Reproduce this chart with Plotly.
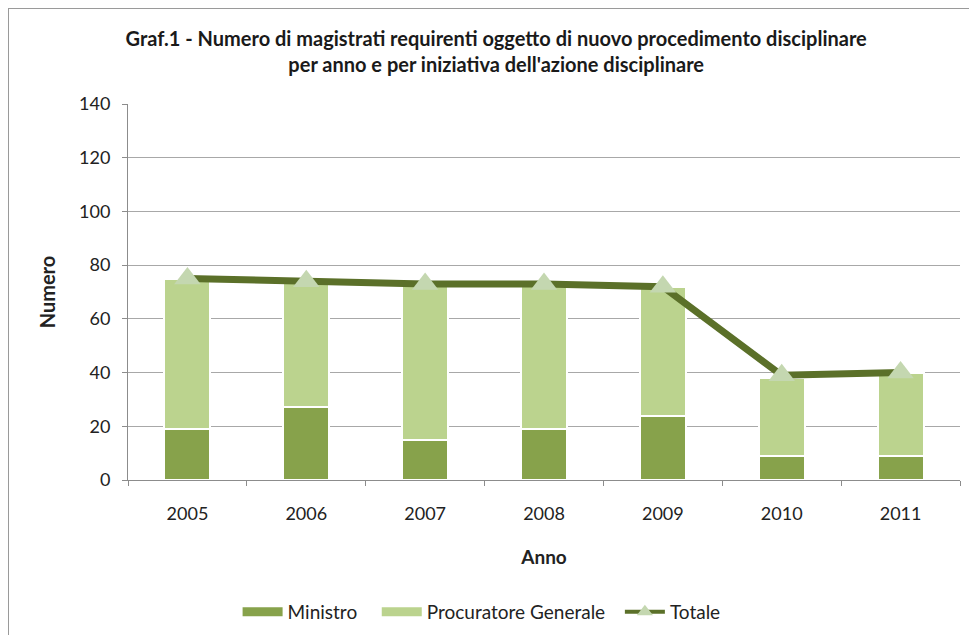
import plotly.graph_objects as go

anni = ["2005", "2006", "2007", "2008", "2009", "2010", "2011"]
ministro = [19, 27, 15, 19, 24, 9, 9]
procuratore = [56, 47, 58, 54, 48, 29, 31]
totale = [75, 74, 73, 73, 72, 39, 40]
y_ticks = [0, 20, 40, 60, 80, 100, 120, 140]

FONT = "Lato, 'Open Sans', sans-serif"
C_MIN = "#87a24b"
C_PG = "#bbd38e"
C_TOT = "#5b7029"
C_TRI = "#c4d7b0"
NB = "\u00a0"

fig = go.Figure()
fig.add_trace(go.Bar(x=anni, y=ministro, name="Ministro", showlegend=False, legendgroup="m",
                     marker=dict(color=C_MIN, line=dict(color="white", width=2))))
fig.add_trace(go.Bar(x=anni, y=procuratore, name="Procuratore Generale", showlegend=False,
                     legendgroup="p",
                     marker=dict(color=C_PG, line=dict(color="white", width=2))))
fig.add_trace(go.Scatter(x=anni, y=totale, name="Totale", mode="lines+markers",
                         showlegend=False, legendgroup="t",
                         line=dict(color=C_TOT, width=7),
                         marker=dict(symbol="triangle-up", size=23, color=C_TRI,
                                     line=dict(width=0))))
# legend entries (wide swatches like the original)
fig.add_trace(go.Scatter(x=[None], y=[None], name="Ministro" + NB * 3, mode="lines",
                         legendgroup="m", line=dict(color=C_MIN, width=9)))
fig.add_trace(go.Scatter(x=[None], y=[None], name="Procuratore Generale" + NB * 2, mode="lines",
                         legendgroup="p", line=dict(color=C_PG, width=9)))
fig.add_trace(go.Scatter(x=[None], y=[None], name="Totale", mode="lines+markers",
                         legendgroup="t", line=dict(color=C_TOT, width=4),
                         marker=dict(symbol="triangle-up", size=14, color=C_TRI,
                                     line=dict(width=0))))

fig.update_layout(
    width=961, height=627,
    barmode="stack", bargap=0.613,
    paper_bgcolor="white", plot_bgcolor="white",
    font=dict(family=FONT, size=18, color="#222222"),
    title=dict(text="<b>Graf.1 - Numero di magistrati requirenti oggetto di nuovo procedimento disciplinare<br>per anno e per iniziativa dell'azione disciplinare</b>",
               x=0.508, xanchor="center", y=1 - 37.5 / 627, yanchor="middle",
               font=dict(family=FONT, size=20, color="#1a1a1a")),
    margin=dict(l=120, r=9, t=96, b=155, autoexpand=False),
    legend=dict(orientation="h", x=0.425, xanchor="center", y=-0.351, yanchor="middle",
                font=dict(family=FONT, size=19, color="#222222"),
                traceorder="normal", itemwidth=40),
    xaxis=dict(title=dict(text="<b>Anno</b>", font=dict(size=19), standoff=28),
               showline=True, linecolor="#8c8c8c", linewidth=1,
               ticks="outside", tickson="boundaries", ticklen=5, tickcolor="#8c8c8c",
               ticklabelstandoff=17, tickfont=dict(size=18)),
    yaxis=dict(title=dict(text="<b>Numero</b>", font=dict(size=20), standoff=18),
               range=[0, 140], tickvals=y_ticks,
               showline=True, linecolor="#8c8c8c", linewidth=1,
               ticks="outside", ticklen=5, tickcolor="#8c8c8c",
               ticklabelstandoff=8,
               gridcolor="#a8a8a8", gridwidth=1, tickfont=dict(size=18), zeroline=False),
)
# chart frame (top and left edges visible in the original)
fig.add_shape(type="line", xref="paper", yref="paper", x0=-120/832, x1=1 + 9/832,
              y0=1 + 96/376, y1=1 + 96/376, line=dict(color="#9a9a9a", width=2))
fig.add_shape(type="line", xref="paper", yref="paper", x0=-120/832, x1=-120/832,
              y0=-155/376, y1=1 + 96/376, line=dict(color="#9a9a9a", width=2))

fig.write_html("out.html")
